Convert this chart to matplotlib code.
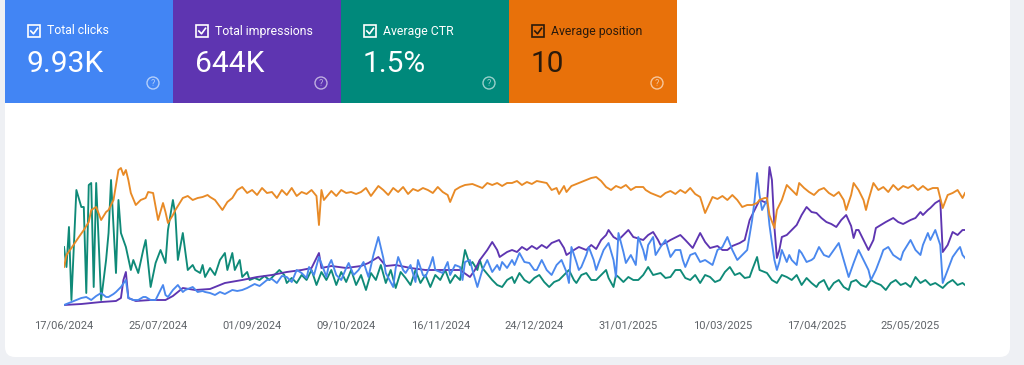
import numpy as np
import matplotlib
matplotlib.use("Agg")
import matplotlib.pyplot as plt
from matplotlib.patches import FancyBboxPatch, Rectangle, Circle
from matplotlib.lines import Line2D
from datetime import datetime, timedelta

plt.rcParams['font.family'] = ['Roboto', 'DejaVu Sans']

# ---------------- data ----------------
start_date = datetime(2024, 6, 17)

metric_labels = ['Total clicks', 'Total impressions', 'Average CTR', 'Average position']
metric_values = ['9.93K', '644K', '1.5%', '10']
metric_colors = ['#4285f4', '#5e35b1', '#00897b', '#e8710a']
metric_text_colors = ['white', 'white', 'white', '#2a1a0c']

tick_labels = ['17/06/2024', '25/07/2024', '01/09/2024', '09/10/2024', '16/11/2024',
               '24/12/2024', '31/01/2025', '10/03/2025', '17/04/2025', '25/05/2025']

# (day offset from 17/06/2024, relative chart value) - each series scaled independently
position_pts = [(0,40),(1,52),(3,59),(6,70),(8,77),(10,85),(11,97),(13,100),(15,87),(17,95),(18,97),(20,107),
    (21,122),(22,137),(23,139),(24,132),(25,137),(26,127),(27,114),(29,102),(31,107),(33,109),(34,115),(36,114),
    (38,87),(40,104),(41,95),(42,84),(44,92),(45,97),(48,109),(50,111),(52,107),(54,109),(56,110),(58,112),
    (59,110),(61,107),(64,97),(66,105),(68,109),(70,117),(72,120),(74,114),(76,117),(78,112),(80,119),(82,114),
    (84,115),(86,109),(88,117),(90,112),(92,119),(94,111),(96,115),(98,113),(100,117),(102,111),(103,82),(104,117),
    (105,107),(108,116),(110,111),(112,117),(114,114),(116,115),(118,113),(120,115),(122,119),(124,111),(127,121),
    (129,117),(131,112),(133,119),(135,115),(137,120),(139,113),(141,118),(143,116),(145,119),(147,117),(149,114),
    (151,120),(153,115),(155,112),(156,105),(158,117),(160,120),(162,122),(165,123),(167,121),(169,119),(171,124),
    (173,122),(175,124),(177,121),(179,124),(181,124),(183,126),(185,122),(187,125),(189,123),(191,126),(193,125),
    (195,124),(197,117),(199,119),(200,113),(202,121),(203,115),(205,121),(207,123),(209,125),(211,127),(213,129),
    (215,130),(217,126),(219,120),(221,117),(223,121),(225,119),(227,122),(229,117),(231,120),(234,120),(235,117),
    (237,114),(239,112),(241,110),(243,114),(245,116),(247,113),(249,117),(251,114),(253,119),(255,113),(257,110),
    (259,94),(262,110),(264,108),(266,111),(268,107),(270,112),(272,107),(274,100),(276,102),(278,102),(280,104),
    (281,107),(283,109),(284,109),(285,92),(287,79),(288,97),(290,107),(292,122),(294,117),(296,112),(297,124),
    (299,119),(301,115),(303,112),(305,117),(307,119),(309,114),(311,111),(313,115),(315,107),(316,97),(318,112),
    (319,124),(321,117),(323,107),(324,97),(325,107),(327,124),(329,117),(331,120),(333,115),(335,122),(337,117),
    (339,121),(341,119),(343,122),(345,117),(347,121),(349,117),(351,119),(353,119),(355,99),(357,112),(359,114),
    (361,117),(363,109),(364,114)]

impressions_pts = [(0,2),(7,3),(15,5),(21,6),(23,9),(24,27),(25,35),(26,9),(29,6),(35,7),(41,7),(44,11),(48,19),
    (53,17),(59,18),(65,24),(72,27),(78,30),(84,32),(90,35),(96,37),(100,39),(103,54),(104,39),(108,41),(114,39),
    (120,41),(123,44),(127,50),(130,41),(134,42),(140,39),(146,37),(152,37),(160,37),(164,30),(166,37),(168,47),
    (171,57),(173,65),(175,57),(176,50),(179,55),(181,57),(183,55),(185,60),(187,57),(189,61),(191,58),(193,62),
    (195,59),(197,64),(199,66),(200,67),(202,59),(203,52),(206,57),(208,60),(211,57),(213,62),(215,58),(217,67),
    (219,72),(220,77),(222,70),(224,67),(226,72),(228,77),(230,70),(234,67),(236,72),(238,75),(240,67),(241,62),
    (243,64),(245,67),(249,72),(251,67),(254,59),(257,74),(259,65),(261,59),(264,61),(266,57),(268,57),(270,61),
    (273,64),(275,67),(277,87),(279,97),(281,107),(284,104),(285,140),(286,127),(287,80),(288,49),(289,57),(290,70),
    (292,72),(294,77),(296,82),(298,92),(300,100),(302,95),(304,94),(306,89),(308,85),(310,83),(312,80),(314,87),
    (316,92),(318,81),(319,69),(320,77),(321,77),(323,67),(324,62),(325,57),(327,67),(328,79),(330,82),(332,85),
    (335,89),(337,85),(339,83),(342,87),(344,89),(346,95),(347,92),(349,97),(350,99),(352,104),(354,107),(355,55),
    (357,62),(359,75),(361,72),(363,77),(364,77)]

clicks_pts = [(0,2),(3,5),(5,7),(7,9),(9,10),(11,7),(13,11),(15,14),(17,10),(18,10),(20,13),(21,15),(23,20),(25,27),
    (26,9),(28,7),(30,7),(32,10),(33,10),(35,7),(37,7),(40,22),(41,12),(42,10),(44,17),(46,22),(48,15),(49,17),
    (52,20),(54,15),(56,16),(57,15),(59,14),(61,12),(63,15),(65,13),(68,17),(70,16),(72,17),(74,19),(77,23),(79,21),
    (82,27),(84,28),(86,24),(88,31),(90,30),(92,25),(94,37),(96,34),(98,29),(99,40),(101,32),(103,50),(105,37),
    (106,30),(107,42),(108,47),(110,32),(112,27),(114,39),(115,44),(117,32),(119,37),(121,45),(123,30),(125,52),
    (127,70),(129,49),(130,34),(133,20),(134,39),(135,50),(137,37),(138,34),(140,42),(142,25),(143,47),(145,32),
    (146,30),(148,42),(149,50),(150,37),(153,34),(155,45),(156,32),(158,42),(160,40),(161,27),(162,45),(164,47),
    (165,37),(167,20),(169,37),(171,47),(173,35),(175,42),(176,37),(177,45),(179,39),(181,47),(182,42),(184,54),
    (186,45),(188,44),(190,37),(191,37),(192,42),(193,47),(195,37),(197,32),(199,42),(201,47),(203,35),(204,24),
    (205,60),(207,45),(208,37),(209,40),(211,52),(212,60),(214,47),(215,37),(216,44),(218,57),(220,64),(222,47),
    (223,30),(224,74),(226,55),(227,44),(229,52),(231,42),(232,70),(234,57),(235,47),(236,62),(238,70),(239,52),
    (241,60),(243,67),(245,50),(247,57),(249,57),(250,47),(251,40),(253,52),(255,54),(257,45),(259,47),(262,42),
    (264,57),(266,60),(268,70),(270,57),(272,47),(274,52),(276,57),(277,72),(278,87),(279,107),(280,134),(281,112),
    (282,97),(283,102),(284,107),(285,82),(286,64),(287,47),(288,37),(289,45),(290,57),(292,45),(293,52),(294,47),
    (296,42),(297,57),(298,54),(300,45),(302,47),(303,49),(305,60),(307,52),(309,50),(311,57),(313,64),(315,47),
    (317,30),(319,44),(321,57),(323,47),(325,37),(326,27),(328,37),(330,50),(331,57),(333,60),(335,52),(338,47),
    (339,55),(342,67),(344,57),(346,52),(347,62),(349,74),(350,67),(352,77),(354,62),(355,24),(357,37),(359,50),
    (361,57),(362,60),(363,52),(364,49)]

ctr_pts = [(0,60),(1,40),(2,80),(3,7),(5,117),(7,100),(8,100),(9,14),(10,122),(11,124),(12,20),(13,124),(15,7),
    (17,47),(18,74),(19,127),(21,34),(22,107),(23,74),(25,60),(27,37),(28,47),(30,34),(32,57),(33,67),(35,20),
    (37,44),(39,57),(41,44),(42,77),(44,107),(45,92),(46,47),(48,74),(50,37),(52,42),(53,37),(55,34),(56,42),
    (57,30),(59,39),(61,32),(63,47),(65,54),(66,37),(68,54),(69,37),(71,47),(72,30),(74,35),(75,27),(77,29),
    (79,27),(81,31),(83,27),(85,32),(87,37),(89,32),(90,24),(92,29),(94,24),(96,32),(98,27),(100,37),(102,22),
    (104,35),(106,27),(108,37),(110,22),(112,35),(114,25),(116,37),(118,22),(120,32),(122,17),(124,34),(126,27),
    (128,42),(130,24),(132,37),(134,19),(136,35),(138,29),(140,22),(142,37),(144,24),(146,32),(148,20),(150,32),
    (152,27),(154,37),(156,24),(158,32),(160,27),(162,57),(164,42),(165,45),(167,37),(168,47),(169,39),(172,30),
    (173,27),(175,22),(177,20),(179,27),(181,30),(182,24),(184,34),(186,27),(188,24),(190,29),(192,32),(194,25),
    (196,20),(198,25),(200,27),(202,32),(204,37),(206,27),(207,24),(209,32),(211,34),(213,27),(215,27),(217,32),
    (219,37),(220,29),(222,20),(223,32),(224,30),(226,25),(228,30),(230,27),(232,27),(234,32),(236,40),(238,32),
    (241,34),(243,29),(245,30),(247,37),(249,37),(251,29),(253,27),(255,32),(257,24),(259,32),(261,30),(263,25),
    (265,27),(267,35),(269,40),(271,32),(273,34),(275,29),(277,30),(278,37),(280,50),(281,37),(284,34),(286,27),
    (288,24),(290,32),(292,30),(294,27),(296,32),(298,22),(300,29),(302,24),(304,20),(305,24),(307,27),(309,17),
    (311,24),(313,27),(315,20),(317,17),(318,25),(320,27),(322,22),(324,20),(326,27),(328,24),(330,22),(332,17),
    (334,24),(336,27),(338,22),(340,24),(342,20),(344,30),(346,24),(348,27),(350,22),(352,24),(355,19),(357,24),
    (359,27),(361,22),(363,24),(364,22)]

series = [
    ('ctr', ctr_pts, '#0f8a78'),
    ('impressions', impressions_pts, '#5e35b1'),
    ('clicks', clicks_pts, '#4a88ee'),
    ('position', position_pts, '#e88a26'),
]

# ---------------- figure ----------------
W, H = 1024, 365
fig = plt.figure(figsize=(W / 100, H / 100), dpi=100)
fig.patch.set_facecolor('#eef0f4')

ov = fig.add_axes([0, 0, 1, 1], zorder=0)
ov.set_xlim(0, W)
ov.set_ylim(H, 0)
ov.axis('off')

# white panel
ov.add_patch(FancyBboxPatch((5, -20), 1005, 377, boxstyle="round,pad=0,rounding_size=10",
                            facecolor='white', edgecolor='none'))

card_w = 168
for i, (lab, val, col, tcol) in enumerate(zip(metric_labels, metric_values, metric_colors, metric_text_colors)):
    x0 = 5 + i * card_w
    ov.add_patch(Rectangle((x0, 0), card_w, 103, facecolor=col, edgecolor='none'))
    # checkbox
    ov.add_patch(Rectangle((x0 + 23, 25), 12, 12, facecolor='none', edgecolor=tcol, linewidth=1.2))
    ov.add_line(Line2D([x0 + 25.8, x0 + 28.5, x0 + 32.5], [31, 33.8, 28.3], color=tcol, linewidth=1.2))
    ov.text(x0 + 42, 31, lab, color=tcol, fontsize=8.8, va='center', ha='left')
    ov.text(x0 + 22, 64, val, color=tcol, fontsize=21.5, va='center', ha='left')
    # help icon
    qc = 'white'
    ov.add_patch(Circle((x0 + 148, 83), 6, facecolor='none', edgecolor=qc, alpha=0.6, linewidth=1))
    ov.text(x0 + 148, 83.5, '?', color=qc, alpha=0.6, fontsize=6.5, ha='center', va='center')

# ---------------- chart ----------------
x_left, x_right = 64, 965
y_bottom, y_top = 307, 165
ax = fig.add_axes([x_left / W, (H - y_bottom) / H, (x_right - x_left) / W, (y_bottom - y_top) / H], zorder=2)
ax.set_facecolor('none')

for name, pts, col in series:
    d = [start_date + timedelta(days=p[0]) for p in pts]
    v = [p[1] for p in pts]
    ax.plot(d, v, color=col, linewidth=1.35, solid_joinstyle='round')

ax.set_xlim(start_date, start_date + timedelta(days=364))
ax.set_ylim(0, 142)
tick_dates = [datetime.strptime(t, '%d/%m/%Y') for t in tick_labels]
ax.set_xticks(tick_dates)
ax.set_xticklabels(tick_labels, fontsize=8, color='#5f6368')
ax.tick_params(axis='x', length=0, pad=10)
ax.set_yticks([])
for s in ax.spines.values():
    s.set_visible(False)

fig.savefig('out.png', dpi=100, facecolor=fig.get_facecolor())
